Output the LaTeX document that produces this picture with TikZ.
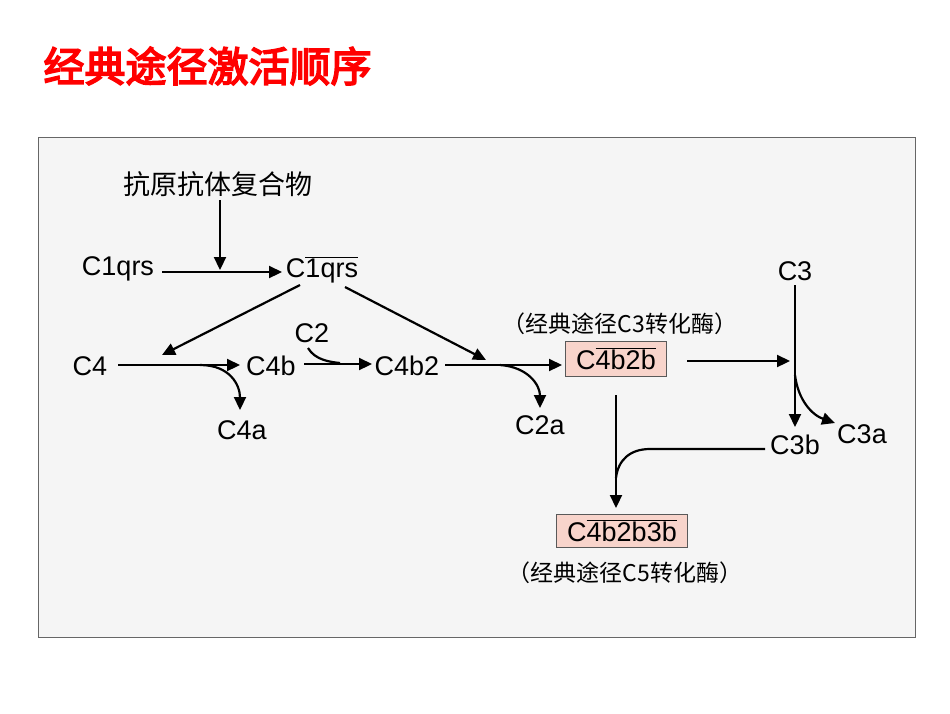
\documentclass[tikz,border=0pt]{standalone}
\usepackage{fontspec}
\setmainfont{Liberation Sans}
\newfontfamily\cjk{Noto Sans CJK SC}
\newfontfamily\cjkbold[FakeBold=4]{Noto Sans CJK SC}
\usetikzlibrary{arrows.meta}
\newcommand{\ovl}[1]{\ensuremath{\overline{\hbox{#1}}}}
\definecolor{enzfill}{HTML}{F8D4CB}
\begin{document}
\begin{tikzpicture}[x=1pt,y=-1pt,
  lbl/.style={font=\fontsize{27}{30}\selectfont, inner sep=1pt},
  note/.style={font=\cjk\fontsize{23}{26}\selectfont, inner sep=1pt},
  enz/.style={draw=gray!70!black, fill=enzfill, font=\fontsize{27}{30}\selectfont, inner sep=2pt, minimum height=35pt},
  arr/.style={line width=2.2pt,-{Triangle[length=13pt,width=12pt]}},
  ln/.style={line width=2.2pt}]
\useasboundingbox (0,0) rectangle (950,713);
\fill[white] (0,0) rectangle (950,713);
\node[font=\cjkbold\fontsize{41}{46}\selectfont, text=red, anchor=west] (title) at (40,66) {经典途径激活顺序};
\draw[gray!80!black, fill=black!4] (38,137) rectangle (915,637);
\node[lbl, font=\cjk\fontsize{27}{30}\selectfont] (ag) at (218,184) {抗原抗体复合物};
\node[lbl] (c1) at (118,269) {C1qrs};
\node[lbl] (c1a) at (322,270) {C\ovl{1qrs}};
\node[lbl] (c4) at (90,366) {C4};
\node[lbl] (c4a) at (242,430) {C4a};
\node[lbl] (c4b) at (271,366) {C4b};
\node[lbl] (c2) at (312,333) {C2};
\node[lbl] (c4b2) at (407,366) {C4b2};
\node[lbl] (c2a) at (540,425) {C2a};
\node[note] (n3) at (620,324) {（经典途径C3转化酶）};
\node[enz, minimum width=101pt] (e3) at (616,359) {C\ovl{4b2b}};
\node[lbl] (c3) at (795,271) {C3};
\node[lbl] (c3a) at (862,434) {C3a};
\node[lbl] (c3b) at (795,445) {C3b};
\node[enz, minimum width=131pt, minimum height=33pt] (e5) at (622,531) {C\ovl{4b2b3b}};
\node[note] (n5) at (625,573) {（经典途径C5转化酶）};
\coordinate (m1) at (220,270);
\coordinate (m4) at (200,365);
\coordinate (m2) at (500,365);
\coordinate (m3) at (795,375);
\coordinate (m5) at (616,478);
\coordinate (t5) at (616,508);
\draw[arr] (220,200) -- (m1);
\draw[arr] (162,272) -- (282,272);
\draw[arr] (300,285) -- (162,355);
\draw[arr] (345,287) -- (486,360);
\draw[arr] (118,365) -- (240,365);
\draw[arr] (m4) .. controls (230,365) and (240,385) .. (240,410);
\draw[ln] (308,348) .. controls (315,360) and (330,362) .. (340,363);
\draw[arr] (304,364) -- (372,364);
\draw[arr] (445,365) -- (562,365);
\draw[arr] (m2) .. controls (528,367) and (540,385) .. (540,408);
\draw[arr] (687,361) -- (790,361);
\draw[arr] (795,285) -- (795,427);
\draw[arr] (m3) .. controls (798,400) and (812,415) .. (835,423);
\draw[ln] (765,449) -- (650,449) .. controls (630,449) and (618,460) .. (m5);
\draw[arr] (616,395) -- (t5);
\end{tikzpicture}
\end{document}
